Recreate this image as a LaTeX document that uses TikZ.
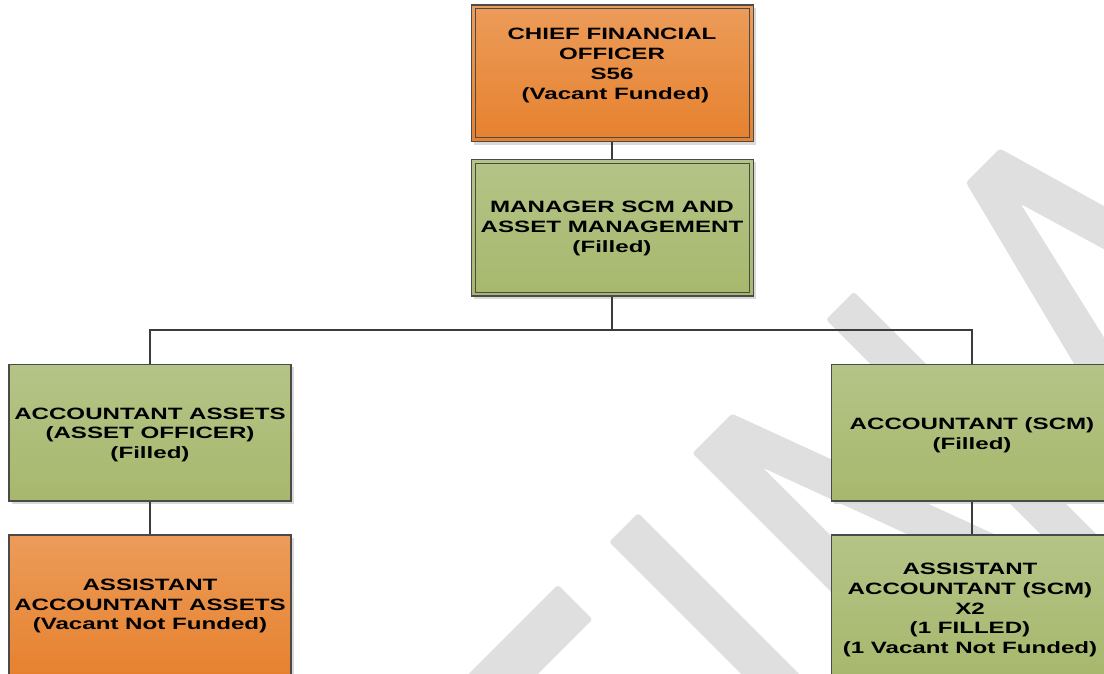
\documentclass[tikz,border=0pt]{standalone}
\usepackage{fontspec}
\setmainfont{Liberation Sans}[FakeStretch=1.47]
\usetikzlibrary{shadows}
\definecolor{orgtop}{HTML}{EC9C5A}
\definecolor{orgbot}{HTML}{E6812E}
\definecolor{grntop}{HTML}{B4C487}
\definecolor{grnbot}{HTML}{A7B86D}
\definecolor{edgecol}{HTML}{4A4A4A}
\definecolor{wmcol}{HTML}{DFDFDF}
\definecolor{conncol}{HTML}{3C3C3C}
\begin{document}
\begin{tikzpicture}[x=1pt, y=-1pt,
  box/.style={draw=edgecol, line width=1.2pt, minimum width=282pt, minimum height=136.7pt, inner sep=0pt,
    drop shadow={shadow xshift=3pt, shadow yshift=-3pt, fill=black!15, opacity=1}},
  orgbox/.style={box, top color=orgtop, bottom color=orgbot},
  grnbox/.style={box, top color=grntop, bottom color=grnbot},
  lowbox/.style={minimum height=142pt},
  innerline/.style={draw=edgecol, line width=1pt},
  txt/.style={align=center, inner sep=0pt, font=\fontsize{16.4}{19.7}\selectfont\bfseries, text=black},
  conn/.style={draw=conncol, line width=2pt},
  wmark/.style={fill=wmcol, rounded corners=3pt}]
\useasboundingbox (0,0) rectangle (1104,673);
\clip (0,0) rectangle (1104,673);
\fill[white] (0,0) rectangle (1104,673);

% watermark strokes
\begin{scope}[x={(0.70711pt,0.70711pt)}, y={(-0.70711pt,0.70711pt)}]
  \fill[wmark] (-300,-857) -- (-19,-857) -- (-19,-808) -- (-300,-808) -- cycle;
  \fill[wmark] (47.4,-1300) -- (88.4,-1300) -- (88.4,-814) -- (47.4,-814) -- cycle;
  \fill[wmark] (169,-1274) -- (169,-810) -- (225,-810) -- (358,-1169) -- (358,-810) -- (397.4,-810)
     -- (397.4,-1274) -- (358,-1274) -- (208.6,-870) -- (208.6,-1274) -- cycle;
  \fill[wmark] (437,-1274) -- (554,-812) -- (602,-812) -- (735,-1274) -- (698.5,-1274)
     -- (577.5,-866) -- (483,-1274) -- cycle;
\end{scope}

% boxes
\node[orgbox] (cfo) at (612.4,73.3) {};
\draw[innerline] ([shift={(4.5pt,-4.5pt)}]cfo.north west) rectangle ([shift={(-4.5pt,4.5pt)}]cfo.south east);
\node[grnbox] (mgr) at (612.4,227.7) {};
\draw[innerline] ([shift={(4.5pt,-4.5pt)}]mgr.north west) rectangle ([shift={(-4.5pt,4.5pt)}]mgr.south east);
\node[grnbox] (accA) at (150,432.7) {};
\node[orgbox, lowbox] (asstA) at (150,606) {};
\node[grnbox] (accS) at (972.3,432.7) {};
\node[grnbox, lowbox] (asstS) at (972.3,606) {};

% texts
\node[txt] (cfoT) at (612,65.5) {CHIEF FINANCIAL\\OFFICER\\S56\\\ (Vacant Funded)};
\node[txt] (mgrT) at (612,228.4) {MANAGER SCM AND\\ASSET MANAGEMENT\\(Filled)};
\node[txt] (accAT) at (150,434.7) {ACCOUNTANT ASSETS\\(ASSET OFFICER)\\(Filled)};
\node[txt] (asstAT) at (150,606) {ASSISTANT\\ACCOUNTANT ASSETS\\(Vacant Not Funded)};
\node[txt] (accST) at (972,435.2) {ACCOUNTANT (SCM)\\(Filled)};
\node[txt] (asstST) at (970,610) {ASSISTANT\\ACCOUNTANT (SCM)\\X2\\(1 FILLED)\\(1 Vacant Not Funded)};

% connectors
\coordinate (bus) at (612.4,330);
\draw[conn] (cfo.south) -- (mgr.north);
\draw[conn] (mgr.south) -- (bus) -| (accA.north);
\draw[conn] (bus) -| (accS.north);
\draw[conn] (accA.south) -- (asstA.north);
\draw[conn] (accS.south) -- (asstS.north);
\end{tikzpicture}
\end{document}
